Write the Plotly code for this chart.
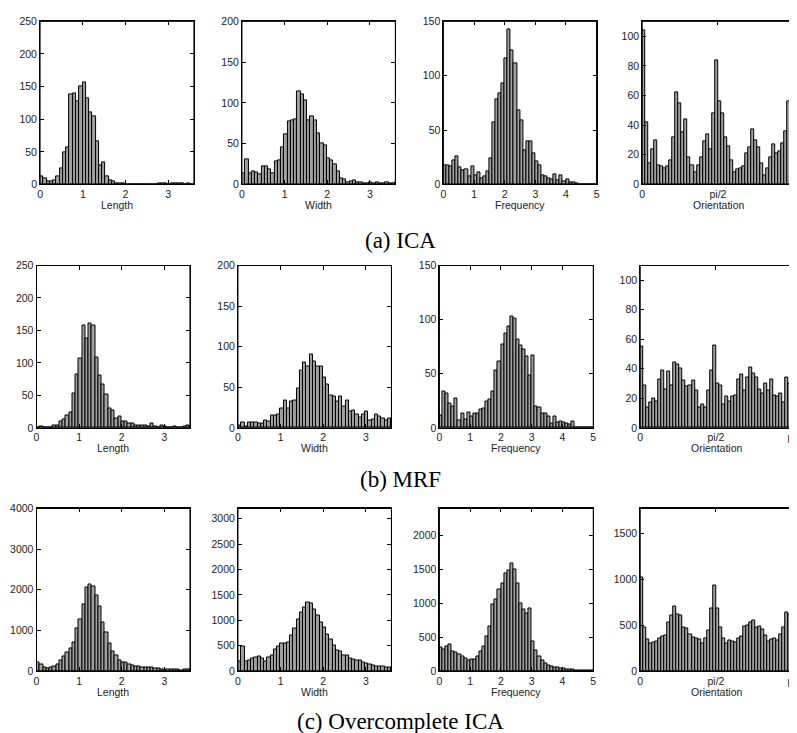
import numpy as np
import plotly.graph_objects as go

# ---------------- data (histogram counts per bin) ----------------
ica_length = [13,10,5,4,7,13,24,49,57,138,140,128,150,156,132,110,104,66,30,34,12,7,4,2,1,
              1,0,0,0,0,0,0,0,0,0,0,1,2,2,0,1,2,1,1,0,1,0,0]
ica_width = [13,31,13,16,15,12,22,22,19,13,28,30,45,62,77,78,80,114,111,103,78,83,79,63,50,
             48,32,30,25,16,8,6,3,4,5,2,2,1,1,2,1,2,1,1,2,1,1,2]
ica_frequency = [18,18,17,22,26,16,13,14,7,17,8,11,6,7,12,24,57,78,84,93,116,143,123,111,68,
                 59,31,40,40,29,21,18,8,7,6,5,9,4,8,3,5,2,2,1,0,0,0,0,0,0]
ica_orientation = [104,42,14,24,30,13,12,11,12,16,32,62,55,35,44,18,13,8,13,18,29,34,24,48,84,
                   56,48,32,26,16,8,10,11,12,21,25,37,30,25,14,6,11,18,27,21,22,28,36,56,55]

mrf_length = [1,2,0,0,0,3,4,9,13,19,23,53,82,106,158,138,160,157,108,80,67,52,30,27,14,
              17,10,10,6,6,3,3,4,4,2,6,2,1,3,2,1,1,2,1,0,2,3,2]
mrf_width = [3,6,2,7,6,6,5,5,9,8,15,15,17,24,34,24,33,34,49,70,80,76,90,82,75,
             75,62,53,40,39,33,38,26,34,20,21,17,13,16,20,9,10,17,14,11,9,11,12]
mrf_frequency = [11,34,32,22,20,27,7,13,8,14,10,13,13,17,18,24,26,34,53,61,77,87,94,103,101,
                 82,76,72,66,48,67,20,19,13,13,10,4,10,5,6,5,4,3,6,0,0,0,0,0,0]
mrf_orientation = [55,29,14,17,20,18,33,39,26,38,29,44,43,40,32,28,29,32,25,14,16,14,25,39,56,
                   30,29,16,21,18,21,22,33,36,25,34,41,37,34,26,23,30,25,33,22,21,23,17,34,30]

oc_length = [200,170,80,70,100,120,170,260,350,460,550,700,1040,1270,1640,2060,2130,2090,1870,1590,
             1200,940,670,480,390,270,220,200,170,150,120,110,90,90,80,80,70,60,50,40,40,30,40,30,20,30,40,30]
oc_width = [180,490,180,200,240,260,290,250,180,260,310,420,490,540,540,560,700,830,1010,1150,
            1260,1350,1330,1210,1100,960,850,730,620,500,410,390,300,300,250,220,200,200,160,150,
            130,110,100,100,100,80,70,60]
oc_frequency = [350,320,370,390,290,270,240,210,180,160,170,170,220,290,370,510,660,980,1060,1200,
                1300,1440,1490,1590,1500,1300,1000,910,850,930,430,300,220,160,110,80,70,60,50,40,
                40,30,30,20,10,10,10,10,5,5]
oc_orientation = [1020,470,340,300,310,320,360,380,390,530,600,700,620,600,480,460,400,370,350,340,
                  300,350,440,680,930,680,470,350,300,330,320,310,350,380,490,500,530,550,480,490,
                  450,390,320,340,350,330,400,480,640,620]

quantities = ["Length", "Width", "Frequency", "Orientation"]
captions = ["(a) ICA", "(b) MRF", "(c) Overcomplete ICA"]
bin_widths = [0.0765, 0.0765, 0.1, np.pi / 50]
x_ranges = [[0, 3.6], [0, 3.6], [0, 5], [0, 3.17]]
x_tickvals = [[0, 1, 2, 3], [0, 1, 2, 3], [0, 1, 2, 3, 4, 5], [0, np.pi / 2, np.pi]]
x_ticktext = [["0", "1", "2", "3"], ["0", "1", "2", "3"], ["0", "1", "2", "3", "4", "5"],
              ["0", "pi/2", "pi"]]

data_rows = [
    [ica_length, ica_width, ica_frequency, ica_orientation],
    [mrf_length, mrf_width, mrf_frequency, mrf_orientation],
    [oc_length, oc_width, oc_frequency, oc_orientation],
]
y_ranges = [
    [250, 200, 150, 110],
    [250, 200, 150, 110],
    [4000, 3200, 2400, 1770],
]
y_dticks = [
    [50, 50, 50, 20],
    [50, 50, 50, 20],
    [1000, 500, 500, 500],
]

# ---------------- layout geometry (pixels) ----------------
W, H = 797, 733
row_px = [(7.5, 173.3), (255.7, 420.7), (502.7, 668.0)]
col_px = [
    [(29.3, 184.3), (232.7, 387.3), (435.7, 590.0), (636.0, 790.0)],
    [(25.7, 180.3), (228.7, 383.3), (431.7, 586.7), (634.0, 788.0)],
    [(25.7, 180.3), (228.7, 383.3), (431.7, 586.7), (634.0, 788.0)],
]
caption_y = [230, 473, 719]

fig = go.Figure()
layout = dict(
    width=W, height=H, margin=dict(l=0, r=0, t=0, b=0),
    paper_bgcolor="white", plot_bgcolor="white", showlegend=False,
    bargap=0, barmode="overlay",
    font=dict(family="Liberation Sans, Arial, sans-serif", size=10, color="#222"),
)
annotations = []
shapes = []
tickfont = dict(family="Liberation Sans, Arial, sans-serif", size=10.5, color="#222")

n = 0
for r in range(3):
    for c in range(4):
        n += 1
        vals = np.array(data_rows[r][c], dtype=float)
        w = bin_widths[c]
        centers = (np.arange(len(vals)) + 0.5) * w
        xa = "x" if n == 1 else f"x{n}"
        ya = "y" if n == 1 else f"y{n}"
        fig.add_trace(go.Bar(
            x=centers, y=vals, width=w, xaxis=xa, yaxis=ya,
            marker=dict(color="#a0a0a0", line=dict(color="black", width=1)),
            hoverinfo="x+y",
        ))
        x0, x1 = col_px[r][c]
        y0, y1 = row_px[r]
        ax_common = dict(
            showline=True, linecolor="black", linewidth=1, mirror="ticks",
            ticks="inside", ticklen=4, tickwidth=1, tickcolor="black",
            showgrid=False, zeroline=False, tickfont=tickfont,
            ticklabeloverflow="allow",
        )
        layout["xaxis" if n == 1 else f"xaxis{n}"] = dict(
            domain=[x0 / W, x1 / W], anchor=ya, range=x_ranges[c],
            tickmode="array", tickvals=x_tickvals[c], ticktext=x_ticktext[c],
            **ax_common,
        )
        layout["yaxis" if n == 1 else f"yaxis{n}"] = dict(
            domain=[1 - y1 / H, 1 - y0 / H], anchor=xa, range=[0, y_ranges[r][c]],
            tick0=0, dtick=y_dticks[r][c], **ax_common,
        )
        shapes.append(dict(
            type="rect", xref=f"{xa} domain", yref=f"{ya} domain",
            x0=0, x1=1, y0=0, y1=1, line=dict(color="black", width=1),
            fillcolor="rgba(0,0,0,0)", layer="above",
        ))
        annotations.append(dict(
            text=quantities[c], xref="paper", yref="paper",
            x=(x0 + x1) / 2 / W, y=1 - (y1 + 21) / H,
            xanchor="center", yanchor="middle", showarrow=False,
            font=dict(family="Liberation Sans, Arial, sans-serif", size=10.5, color="#222"),
        ))
    annotations.append(dict(
        text=captions[r], xref="paper", yref="paper",
        x=392 / W, y=1 - caption_y[r] / H, xanchor="center", yanchor="middle",
        showarrow=False,
        font=dict(family="Liberation Serif, DejaVu Serif, serif", size=23, color="black"),
    ))

layout["annotations"] = annotations
layout["shapes"] = shapes
fig.update_layout(**layout)
fig.write_html("out.html")
